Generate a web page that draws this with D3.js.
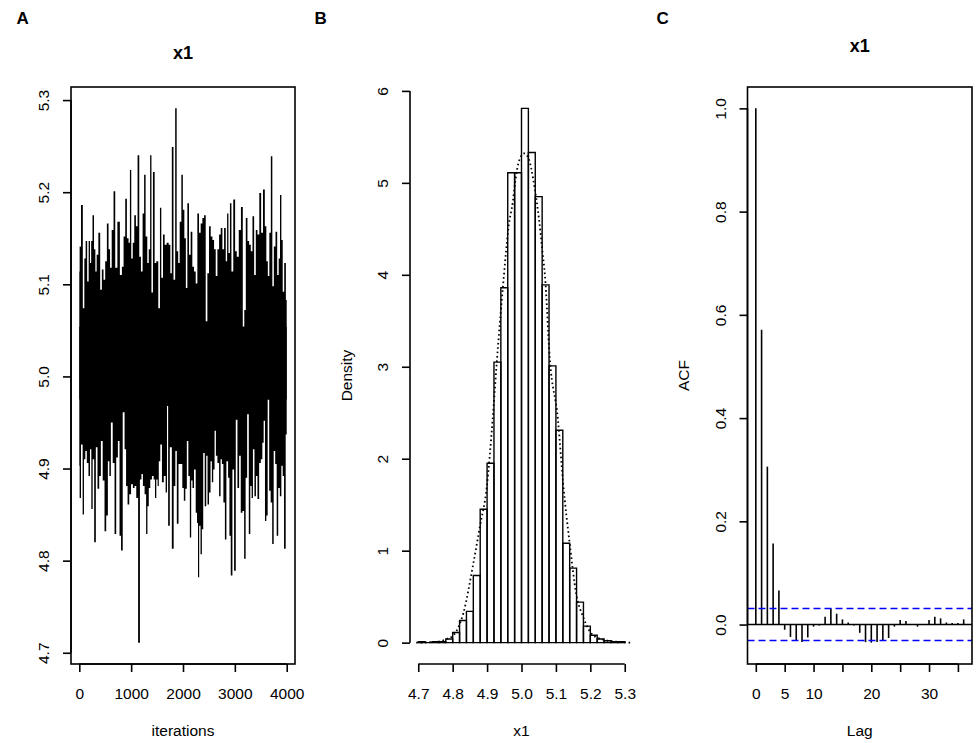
<!DOCTYPE html>
<html>
<head>
<meta charset="utf-8">
<script src="https://cdn.jsdelivr.net/npm/d3@7"></script>
<style>
  body { margin: 0; background: #fff; }
  text { font-family: "Liberation Sans", Arial, sans-serif; fill: #000; }
</style>
</head>
<body>
<div id="chart"></div>
<script>
// MCMC diagnostics for x1: trace, histogram + density, autocorrelation

// Data
// =======================================
// Trace: upper and lower envelope of the chain, [iteration, value]
var traceHigh = [[0,5.114],[13,5.141],[52,5.186],[84,5.074],[110,5.128],[135,5.147],[168,5.103],[193,5.147],[219,5.123],[239,5.147],
  [271,5.175],[297,5.138],[322,5.114],[348,5.132],[387,5.156],[419,5.094],[451,5.116],[483,5.105],[516,5.125],[548,5.166],
  [580,5.138],[606,5.118],[644,5.159],[677,5.201],[709,5.118],[760,5.168],[805,5.110],[838,5.119],[870,5.152],[902,5.193],
  [934,5.150],[966,5.145],[986,5.224],[1018,5.128],[1044,5.145],[1076,5.175],[1108,5.163],[1140,5.240],[1173,5.130],[1205,5.114],
  [1237,5.177],[1263,5.219],[1295,5.152],[1327,5.123],[1353,5.138],[1379,5.240],[1404,5.091],[1437,5.222],[1469,5.123],[1501,5.125],
  [1546,5.074],[1565,5.183],[1598,5.107],[1630,5.154],[1662,5.143],[1707,5.145],[1739,5.143],[1772,5.112],[1797,5.249],[1836,5.105],
  [1862,5.291],[1894,5.136],[1920,5.123],[1952,5.168],[1984,5.219],[2010,5.181],[2042,5.150],[2068,5.096],[2100,5.188],[2132,5.132],
  [2164,5.157],[2196,5.119],[2229,5.114],[2261,5.101],[2293,5.177],[2325,5.156],[2357,5.166],[2390,5.172],[2422,5.175],[2454,5.060],
  [2486,5.112],[2518,5.163],[2551,5.152],[2583,5.148],[2615,5.138],[2647,5.109],[2680,5.138],[2712,5.154],[2744,5.161],[2776,5.138],
  [2808,5.161],[2841,5.125],[2860,5.177],[2892,5.134],[2918,5.188],[2950,5.114],[2989,5.192],[3021,5.136],[3053,5.130],[3098,5.159],
  [3137,5.184],[3169,5.054],[3195,5.072],[3227,5.172],[3259,5.147],[3291,5.143],[3324,5.136],[3356,5.174],[3388,5.110],[3420,5.159],
  [3452,5.154],[3491,5.199],[3523,5.156],[3562,5.203],[3594,5.163],[3620,5.125],[3652,5.109],[3678,5.156],[3710,5.239],[3736,5.098],
  [3768,5.141],[3800,5.157],[3833,5.110],[3858,5.128],[3884,5.197],[3910,5.148],[3936,5.092],[3968,5.123],[4000,5.083]];

var traceLow = [[0,4.903],[13,4.868],[52,4.926],[77,4.850],[103,4.910],[129,4.919],[161,4.906],[193,4.892],[219,4.921],[245,4.856],
  [271,4.910],[303,4.820],[335,4.923],[367,4.878],[400,4.892],[432,4.930],[470,4.887],[503,4.832],[535,4.849],[567,4.908],
  [593,4.892],[625,4.950],[664,4.906],[696,4.829],[728,4.912],[760,4.930],[792,4.827],[818,4.811],[857,4.961],[889,4.921],
  [915,4.881],[947,4.861],[979,4.872],[1018,4.883],[1050,4.879],[1082,4.881],[1115,4.868],[1153,4.711],[1185,4.888],[1211,4.894],
  [1243,4.881],[1276,4.872],[1301,4.829],[1327,4.859],[1353,4.879],[1385,4.888],[1417,4.892],[1450,4.888],[1469,4.868],[1501,4.888],
  [1520,4.881],[1546,4.908],[1578,4.926],[1610,4.885],[1649,4.892],[1681,4.874],[1701,4.968],[1726,4.838],[1765,4.923],[1804,4.813],
  [1836,4.881],[1868,4.919],[1894,4.840],[1933,4.905],[1971,4.905],[2003,4.879],[2029,4.865],[2061,4.878],[2087,4.930],[2119,4.892],
  [2145,4.825],[2171,4.887],[2196,4.879],[2229,4.899],[2261,4.852],[2280,4.841],[2299,4.782],[2325,4.838],[2351,4.807],[2377,4.834],
  [2403,4.917],[2435,4.859],[2461,4.914],[2486,4.861],[2518,4.874],[2544,4.908],[2570,4.885],[2596,4.899],[2622,4.941],[2647,4.914],
  [2680,4.906],[2712,4.870],[2737,4.910],[2763,4.905],[2795,4.863],[2821,4.823],[2853,4.908],[2886,4.890],[2905,4.827],[2937,4.784],
  [2969,4.899],[3002,4.789],[3034,4.953],[3066,4.879],[3098,4.914],[3130,4.852],[3163,4.854],[3195,4.802],[3221,4.890],[3253,4.959],
  [3285,4.829],[3311,4.881],[3336,4.868],[3362,4.921],[3394,4.870],[3420,4.892],[3452,4.867],[3485,4.906],[3517,4.910],[3543,4.928],
  [3568,4.952],[3594,4.843],[3620,4.849],[3646,4.975],[3678,4.876],[3704,4.863],[3736,4.818],[3762,4.919],[3794,4.905],[3820,4.827],
  [3852,4.879],[3884,4.870],[3910,4.903],[3936,4.892],[3961,4.813],[4000,4.937]];

var traceXTicks = [0, 1000, 2000, 3000, 4000];
var traceYTicks = [4.7, 4.8, 4.9, 5.0, 5.1, 5.2, 5.3];

// Histogram: left edge of each 0.02 bin and its density
var histBinLeft = [4.70,4.72,4.74,4.76,4.78,4.80,4.82,4.84,4.86,4.88,4.90,4.92,4.94,4.96,4.98,
                   5.00,5.02,5.04,5.06,5.08,5.10,5.12,5.14,5.16,5.18,5.20,5.22,5.24,5.26,5.28];
var histDensity = [0.01,0.00,0.01,0.01,0.04,0.11,0.24,0.34,0.73,1.45,1.95,3.05,3.86,5.11,5.11,
                   5.81,5.33,4.85,3.89,3.01,2.31,1.08,0.81,0.44,0.18,0.08,0.04,0.02,0.01,0.01];
var histBinWidth = 0.02;

// Kernel density curve (dotted)
var densX = [4.694,4.758,4.783,4.802,4.831,4.860,4.879,4.899,4.916,4.928,4.949,4.955,4.962,4.975,4.982,4.993,
             5.008,5.022,5.034,5.051,5.061,5.068,5.082,5.106,5.121,5.140,5.159,5.179,5.208,5.240,5.275,5.319];
var densY = [0.00,0.01,0.04,0.08,0.32,0.86,1.26,1.69,2.42,3.04,4.00,4.25,4.51,4.80,5.02,5.24,
             5.32,5.25,5.04,4.60,4.25,4.00,3.10,2.42,1.73,1.08,0.53,0.28,0.08,0.03,0.01,0.00];

var histXTicks = [4.7, 4.8, 4.9, 5.0, 5.1, 5.2, 5.3];
var histYTicks = [0, 1, 2, 3, 4, 5, 6];

// Autocorrelation by lag
var acfLag = [0,1,2,3,4,5,6,7,8,9,10,11,12,13,14,15,16,17,18,19,20,21,22,23,24,25,26,27,28,29,30,31,32,33,34,35,36];
var acfValue = [1.000,0.571,0.306,0.157,0.066,-0.010,-0.024,-0.031,-0.034,-0.025,-0.004,-0.002,0.015,0.031,0.021,0.010,
                0.004,-0.002,-0.016,-0.034,-0.035,-0.034,-0.030,-0.026,-0.004,0.009,0.007,0.000,-0.004,0.000,0.009,0.015,
                0.012,0.004,0.003,0.003,0.010];
var acfCI = 0.031;
var acfXTicks = [0, 5, 10, 15, 20, 25, 30, 35];
var acfXLabels = [0, 5, 10, 20, 30];
var acfYTicks = [0.0, 0.2, 0.4, 0.6, 0.8, 1.0];

// Layout
// =======================================
var width = 976, height = 743;
var plotTop = 87, plotBottom = 664;
var fontSize = 15.5;

var svg = d3.select("#chart").append("svg")
    .attr("width", width)
    .attr("height", height);

// R style: extend a range by 4% on each side
function rRange(lo, hi) {
    var d = (hi - lo) * 0.04;
    return [lo - d, hi + d];
}

function leftAxis(scale, ticks, fmt, x) {
    var g = svg.append("g")
        .attr("transform", "translate(" + x + ",0)")
        .call(d3.axisLeft(scale).tickValues(ticks).tickFormat(fmt).tickSize(8).tickSizeOuter(0));
    g.select(".domain").remove();
    g.append("line")
        .attr("y1", scale(ticks[0]))
        .attr("y2", scale(ticks[ticks.length - 1]))
        .attr("stroke", "#000").attr("stroke-width", 1.6);
    g.selectAll(".tick line").attr("stroke", "#000").attr("stroke-width", 1.6);
    g.selectAll(".tick text")
        .attr("x", 0).attr("y", 0).attr("dy", "0.35em")
        .attr("transform", "translate(-27,0) rotate(-90)")
        .style("text-anchor", "middle")
        .style("font-size", fontSize + "px");
}

function bottomAxis(scale, ticks, fmt, y) {
    var g = svg.append("g")
        .attr("transform", "translate(0," + y + ")")
        .call(d3.axisBottom(scale).tickValues(ticks).tickFormat(fmt).tickSize(8).tickSizeOuter(0));
    g.select(".domain").remove();
    g.append("line")
        .attr("x1", scale(ticks[0]))
        .attr("x2", scale(ticks[ticks.length - 1]))
        .attr("stroke", "#000").attr("stroke-width", 1.6);
    g.selectAll(".tick line").attr("stroke", "#000").attr("stroke-width", 1.6);
    g.selectAll(".tick text")
        .attr("y", 24)
        .style("font-size", fontSize + "px");
}

function frame(x0, x1) {
    svg.append("rect")
        .attr("x", x0).attr("y", plotTop)
        .attr("width", x1 - x0).attr("height", plotBottom - plotTop)
        .attr("fill", "none").attr("stroke", "#000").attr("stroke-width", 1.6);
}

function label(txt, x, y, opts) {
    opts = opts || {};
    var t = svg.append("text")
        .attr("x", x).attr("y", y)
        .style("font-size", (opts.size || fontSize) + "px")
        .style("font-weight", opts.bold ? "bold" : "normal")
        .style("text-anchor", opts.anchor || "middle")
        .text(txt);
    if (opts.rotate) {
        t.attr("transform", "rotate(-90," + x + "," + y + ")").attr("dy", "0.35em");
    }
    return t;
}

// Panel letters
label("A", 16.5, 24, {bold: true, size: 17, anchor: "start"});
label("B", 314.5, 24, {bold: true, size: 17, anchor: "start"});
label("C", 656.5, 24, {bold: true, size: 17, anchor: "start"});

// Panel A: trace
// =======================================
var aLeft = 71, aRight = 295;
var hiVals = traceHigh.map(function(d) { return d[1]; });
var loVals = traceLow.map(function(d) { return d[1]; });

var xA = d3.scaleLinear()
    .domain(rRange(0, 4000))
    .range([aLeft, aRight]);
var yA = d3.scaleLinear()
    .domain(rRange(d3.min(loVals), d3.max(hiVals)))
    .range([plotBottom, plotTop]);

// the chain is so dense that it shows as a solid band: upper spikes down to
// the highest low point, lower spikes up to the lowest high point
svg.append("path")
    .datum(traceHigh)
    .attr("fill", "#000")
    .attr("d", d3.area()
        .curve(d3.curveStep)
        .x(function(d) { return xA(d[0]); })
        .y0(yA(d3.max(loVals)))
        .y1(function(d) { return yA(d[1]); }));

svg.append("path")
    .datum(traceLow)
    .attr("fill", "#000")
    .attr("d", d3.area()
        .curve(d3.curveStep)
        .x(function(d) { return xA(d[0]); })
        .y0(yA(d3.min(hiVals)))
        .y1(function(d) { return yA(d[1]); }));

frame(aLeft, aRight);
leftAxis(yA, traceYTicks, d3.format(".1f"), aLeft);
bottomAxis(xA, traceXTicks, d3.format("d"), plotBottom);
label("x1", (aLeft + aRight) / 2, 59, {bold: true, size: 18});
label("iterations", (aLeft + aRight) / 2, 736);

// Panel B: histogram with density
// =======================================
var bLeft = 410, bRight = 633;
var xB = d3.scaleLinear()
    .domain(rRange(histBinLeft[0], histBinLeft[histBinLeft.length - 1] + histBinWidth))
    .range([bLeft, bRight]);
var yB = d3.scaleLinear()
    .domain(rRange(0, d3.max(histDensity)))
    .range([plotBottom, plotTop]);

svg.append("g").selectAll("path")
    .data(histBinLeft)
    .enter().append("path")
    .attr("fill", "none")
    .attr("stroke", "#000")
    .attr("stroke-width", 1.4)
    .attr("d", function(d, i) {
        var x0 = xB(d), x1 = xB(d + histBinWidth);
        var y0 = yB(0), y1 = yB(histDensity[i]);
        return "M" + x0 + "," + y0 + "V" + y1 + "H" + x1 + "V" + y0 + "Z";
    });

svg.append("path")
    .datum(d3.zip(densX, densY))
    .attr("fill", "none")
    .attr("stroke", "#000")
    .attr("stroke-width", 1.8)
    .attr("stroke-dasharray", "1.6,2.8")
    .attr("d", d3.line()
        .curve(d3.curveMonotoneX)
        .x(function(d) { return xB(d[0]); })
        .y(function(d) { return yB(d[1]); }));

leftAxis(yB, histYTicks, d3.format("d"), bLeft);
bottomAxis(xB, histXTicks, d3.format(".1f"), plotBottom);
label("Density", bLeft - 63.5, (plotTop + plotBottom) / 2, {rotate: true});
label("x1", (xB(4.7) + xB(5.3)) / 2, 736);

// Panel C: autocorrelation
// =======================================
var cLeft = 747.5, cRight = 972;
var xC = d3.scaleLinear()
    .domain(rRange(0, d3.max(acfLag)))
    .range([cLeft, cRight]);
var yC = d3.scaleLinear()
    .domain(rRange(Math.min(-acfCI, d3.min(acfValue)), Math.max(acfCI, d3.max(acfValue))))
    .range([plotBottom, plotTop]);

svg.append("line")
    .attr("x1", cLeft).attr("x2", cRight)
    .attr("y1", yC(0)).attr("y2", yC(0))
    .attr("stroke", "#000").attr("stroke-width", 1.6);

svg.append("g").selectAll("line")
    .data(acfLag)
    .enter().append("line")
    .attr("x1", function(d) { return xC(d); })
    .attr("x2", function(d) { return xC(d); })
    .attr("y1", yC(0))
    .attr("y2", function(d, i) { return yC(acfValue[i]); })
    .attr("stroke", "#000")
    .attr("stroke-width", 1.6);

[acfCI, -acfCI].forEach(function(c) {
    svg.append("line")
        .attr("x1", cLeft).attr("x2", cRight)
        .attr("y1", yC(c)).attr("y2", yC(c))
        .attr("stroke", "#0000ff")
        .attr("stroke-width", 1.6)
        .attr("stroke-dasharray", "7,4");
});

frame(cLeft, cRight);
leftAxis(yC, acfYTicks, d3.format(".1f"), cLeft);
bottomAxis(xC, acfXTicks, function(d) { return acfXLabels.indexOf(d) >= 0 ? d : ""; }, plotBottom);
label("x1", (cLeft + cRight) / 2, 52, {bold: true, size: 18});
label("ACF", cLeft - 63.5, (plotTop + plotBottom) / 2, {rotate: true});
label("Lag", (cLeft + cRight) / 2, 736);
</script>
</body>
</html>
